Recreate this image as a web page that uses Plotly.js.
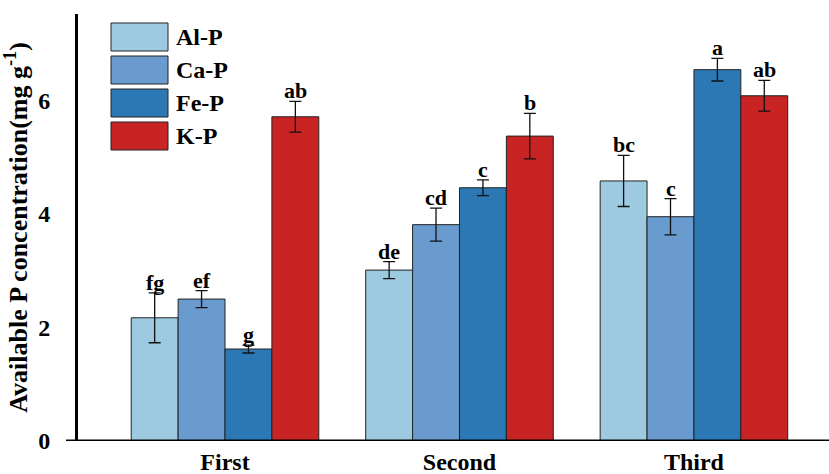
<!DOCTYPE html>
<html><head><meta charset="utf-8">
<script src="https://cdn.plot.ly/plotly-3.0.1.min.js"></script>
<style>body{margin:0;padding:0;background:#fff}#chart{width:829px;height:474px}</style>
</head><body><div id="chart"></div>
<script>
var categories = ["First", "Second", "Third"];
var seriesNames = ["Al-P", "Ca-P", "Fe-P", "K-P"];
var seriesColors = ["#9ECAE1", "#6A9BCF", "#2B78B4", "#C82423"];
var alP = [2.17, 3.01, 4.58];
var caP = [2.50, 3.81, 3.95];
var feP = [1.62, 4.46, 6.54];
var kP  = [5.71, 5.37, 6.08];
var alErr = [0.44, 0.15, 0.45];
var caErr = [0.15, 0.29, 0.32];
var feErr = [0.07, 0.14, 0.20];
var kErr  = [0.27, 0.40, 0.27];
var alLetters = ["fg", "de", "bc"];
var caLetters = ["ef", "cd", "c"];
var feLetters = ["g", "c", "a"];
var kLetters  = ["ab", "b", "ab"];

(function(){
var values = [alP, caP, feP, kP];
var errs = [alErr, caErr, feErr, kErr];
var letters = [alLetters, caLetters, feLetters, kLetters];
var xIdx = categories.map(function(c, i){ return i; });
var font = "'Liberation Serif', 'Times New Roman', serif";

var traces = [];
var annotations = [];
var shapes = [];
var barW = 0.8 / seriesNames.length;
for (var s = 0; s < seriesNames.length; s++) {
  traces.push({
    type: 'bar', name: seriesNames[s], x: xIdx, y: values[s],
    marker: {color: seriesColors[s], line: {color: '#222', width: 1}},
    error_y: {type: 'data', array: errs[s], visible: true, color: '#111', thickness: 1.3, width: 6},
    showlegend: false, hoverinfo: 'skip'
  });
  for (var i = 0; i < xIdx.length; i++) {
    annotations.push({
      x: xIdx[i] + (s - (seriesNames.length - 1) / 2) * barW,
      y: values[s][i] + errs[s][i], xref: 'x', yref: 'y',
      text: letters[s][i], showarrow: false, yanchor: 'bottom', yshift: -4,
      font: {family: font, size: 22, color: '#000', weight: 'bold'}
    });
  }
  var legTop = 23 + s * 33;
  shapes.push({type: 'rect', xref: 'paper', yref: 'paper',
    x0: (111 - 78) / 751, x1: (168 - 78) / 751,
    y0: 1 - (legTop - 14) / 427, y1: 1 - (legTop + 28 - 14) / 427,
    fillcolor: seriesColors[s], line: {color: '#222', width: 1}});
  annotations.push({xref: 'paper', yref: 'paper', x: (174 - 78) / 751, y: 1 - (legTop + 14 - 14) / 427,
    xanchor: 'left', yanchor: 'middle', showarrow: false, text: seriesNames[s],
    font: {family: font, size: 24, color: '#000', weight: 'bold'}});
}
shapes.push({type: 'line', xref: 'paper', yref: 'y', x0: (66 - 78) / 751, x1: 1, y0: 0, y1: 0,
  line: {color: '#000', width: 3}});

var layout = {
  width: 829, height: 474,
  margin: {l: 78, r: 0, t: 14, b: 33},
  paper_bgcolor: '#fff', plot_bgcolor: '#fff',
  barmode: 'group', bargap: 0.2, bargroupgap: 0,
  font: {family: font, color: '#000'},
  xaxis: {
    range: [-0.627, 2.576], tickvals: xIdx, ticktext: categories,
    showline: false, showgrid: false, zeroline: false, ticks: '', ticklabelstandoff: 4,
    tickfont: {family: font, size: 24, color: '#000', weight: 'bold'}
  },
  yaxis: {
    range: [0, 7.52], tickvals: [0, 2, 4, 6], showgrid: false, zeroline: false,
    showline: true, linecolor: '#000', linewidth: 3, ticks: '', ticklabelstandoff: 20,
    tickfont: {family: font, size: 24, color: '#000', weight: 'bold'},
    title: {text: 'Available P concentration(mg g<sup>-1</sup>)', standoff: 12,
      font: {family: font, size: 26, color: '#000', weight: 'bold'}}
  },
  annotations: annotations,
  shapes: shapes
};
Plotly.newPlot('chart', traces, layout, {displayModeBar: false, staticPlot: true});
})();
</script></body></html>
